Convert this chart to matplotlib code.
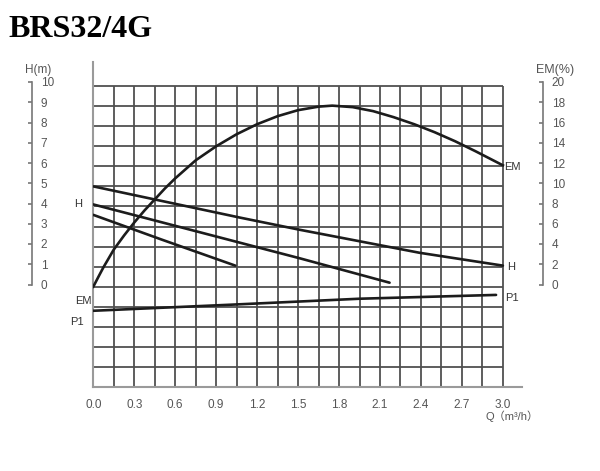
# Curba pompei BRS32/4G - H, EM si P1 in functie de debit

import matplotlib.pyplot as plt
import numpy as np

# Date
q_em = [0.0, 0.04, 0.075, 0.15, 0.225, 0.3, 0.375, 0.45, 0.525, 0.6, 0.75, 0.9,
        1.05, 1.2, 1.35, 1.5, 1.65, 1.75, 1.9, 2.05, 2.2, 2.35, 2.5, 2.65, 2.8, 3.0]
em = [0.0, 1.05, 1.95, 3.7, 5.1, 6.4, 7.6, 8.7, 9.8, 10.8, 12.6, 14.0,
      15.2, 16.2, 17.0, 17.6, 17.95, 18.05, 17.9, 17.5, 16.9, 16.2, 15.4, 14.5, 13.5, 12.1]

q_h1 = [0.0, 1.07, 1.51, 2.39, 3.0]
h1 = [5.0, 3.45, 2.84, 1.69, 1.05]
q_h2 = [0.0, 1.07, 1.51, 2.17]
h2 = [4.1, 2.2, 1.42, 0.2]
q_h3 = [0.0, 0.5, 1.04]
h3 = [3.58, 2.35, 1.05]

# P1 nu are scala proprie; pozitia e in unitatile grilei H
q_p1 = [0.0, 1.0, 1.95, 2.95]
p1 = [-1.2, -0.9, -0.6, -0.41]

x_ticks = [0.0, 0.3, 0.6, 0.9, 1.2, 1.5, 1.8, 2.1, 2.4, 2.7, 3.0]
x_labels = ['0.0', '0.3', '0.6', '0.9', '1.2', '1.5', '1.8', '2.1', '2.4', '2.7', '3.0']
h_ticks = list(range(0, 11))
em_ticks = list(range(0, 21, 2))

W, H = 600, 471
fig = plt.figure(figsize=(6, 4.71), dpi=100)

def fx(px):
    return px / W

def fy(py):
    return (H - py) / H

line_col = '#1c1c1c'
grid_col = '#505050'
tick_col = '#555555'
sans = 'Liberation Sans'

# axa principala: q 0..3.14, H -5..11
ax = fig.add_axes([fx(93.3), fy(387), fx(522) - fx(93.3), fy(62) - fy(387)])
ax.set_xlim(0, 3.14)
ax.set_ylim(-5, 11.2)
for s in ['top', 'right']:
    ax.spines[s].set_visible(False)
for s in ['left', 'bottom']:
    ax.spines[s].set_color('#9a9a9a')
    ax.spines[s].set_linewidth(1.5)

ax.vlines(np.arange(0, 3.001, 0.15), -5, 10, color=grid_col, lw=1.3, zorder=2)
ax.hlines(np.arange(-5, 11), 0, 3.0, color=grid_col, lw=1.3, zorder=2)

ax.set_xticks(x_ticks)
ax.set_xticklabels(x_labels, fontsize=8.5, color=tick_col, family=sans)
ax.set_yticks([])
ax.tick_params(axis='x', length=0, pad=9)

for qq, hh in [(q_h1, h1), (q_h2, h2), (q_h3, h3), (q_p1, p1)]:
    ax.plot(qq, hh, color=line_col, lw=1.9, zorder=4, solid_capstyle='round')

# EM pe axa dubla (0..20 %)
ax2 = ax.twinx()
ax2.set_ylim(-10, 22.4)
ax2.axis('off')
ax2.plot(q_em, em, color=line_col, lw=1.9, zorder=4, solid_joinstyle='round')

# etichete curbe
lab = dict(fontsize=8, color='#333333', family=sans)
ax.text(-0.08, 4.1, 'H', ha='right', va='center', **lab)
ax.text(-0.01, -0.7, 'EM', ha='right', va='center', **lab)
ax.text(-0.07, -1.75, 'P1', ha='right', va='center', **lab)
ax.text(3.01, 5.95, 'EM', ha='left', va='center', **lab)
ax.text(3.03, 1.0, 'H', ha='left', va='center', **lab)
ax.text(3.02, -0.55, 'P1', ha='left', va='center', **lab)

ax.text(3.07, -6.45, 'Q（m³/h）', ha='center', va='center', fontsize=8,
        color=tick_col, family=[sans, 'Noto Sans CJK SC'])

# scalele laterale H(m) si EM(%)
axl = fig.add_axes([fx(31.7), fy(284.5), 0.0001, fy(82) - fy(284.5)])
axr = fig.add_axes([fx(542.7), fy(284.5), 0.0001, fy(82) - fy(284.5)])
for a, lim, ticks in [(axl, 10, h_ticks), (axr, 20, em_ticks)]:
    a.set_ylim(0, lim)
    a.set_yticks(ticks)
    a.set_xticks([])
    for s in ['top', 'right', 'bottom']:
        a.spines[s].set_visible(False)
    a.spines['left'].set_color('#777777')
    a.spines['left'].set_linewidth(1.2)
    a.tick_params(axis='y', direction='out', length=3, width=1.2, colors='#777777',
                  left=True, right=False, labelleft=False, labelright=True, pad=3.5,
                  labelsize=8.5, labelcolor=tick_col)
    for t in a.get_yticklabels():
        t.set_family(sans)

fig.text(fx(38), fy(70), 'H(m)', ha='center', va='center', fontsize=8.5,
         color=tick_col, family=sans)
fig.text(fx(555), fy(70), 'EM(%)', ha='center', va='center', fontsize=9,
         color=tick_col, family=sans)

fig.text(fx(8), fy(37), 'BRS32/4G', ha='left', va='baseline', fontsize=23,
         weight='bold', family='Liberation Serif', color='black')

plt.savefig('out.png', dpi=100)
